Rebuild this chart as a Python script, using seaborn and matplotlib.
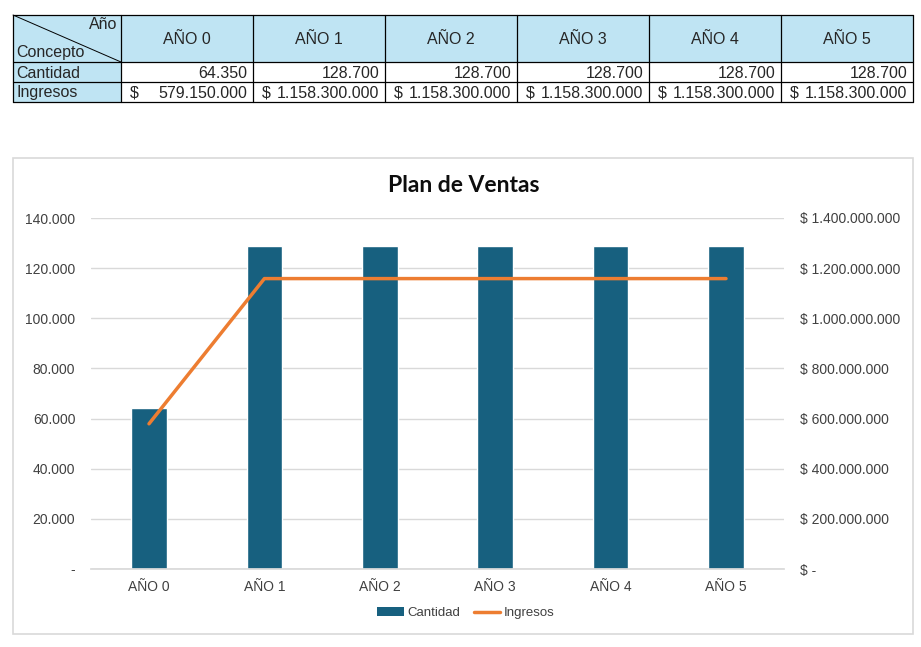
import matplotlib
matplotlib.use("Agg")
import matplotlib.pyplot as plt
import seaborn as sns
import pandas as pd
from matplotlib.patches import Rectangle
from matplotlib.lines import Line2D
from matplotlib.ticker import FuncFormatter

# ---- data ----
categorias = ["AÑO 0", "AÑO 1", "AÑO 2", "AÑO 3", "AÑO 4", "AÑO 5"]
cantidad = [64350, 128700, 128700, 128700, 128700, 128700]
ingresos = [579150000, 1158300000, 1158300000, 1158300000, 1158300000, 1158300000]
filas = ["Cantidad", "Ingresos"]
titulo = "Plan de Ventas"

BAR = "#17607F"
ORANGE = "#ED7D31"
HEAD = "#BFE4F3"
GRID = "#D9D9D9"
TXT = "#404040"

def miles(v):
    return f"{int(round(v)):,}".replace(",", ".")

sns.set_theme(style="white")
plt.rcParams["font.family"] = ["Liberation Sans", "DejaVu Sans"]

fig = plt.figure(figsize=(9.21, 6.47), dpi=100)

# ---- table (pixel coordinate canvas) ----
tx = fig.add_axes([0, 0, 1, 1])
tx.set_xlim(0, 921)
tx.set_ylim(647, 0)
tx.axis("off")

x0, xc1, cw = 13, 121, 132
y0, yh, yr = 15, 62, 20
col_x = [xc1 + i * cw for i in range(len(categorias) + 1)]
col_x[-1] = 913
TFS = 11.5
tx.add_patch(Rectangle((x0, y0), 913 - x0, yh - y0, facecolor=HEAD, edgecolor="none"))
tx.add_patch(Rectangle((x0, yh), xc1 - x0, 2 * yr, facecolor=HEAD, edgecolor="none"))
for yy in [y0, yh, yh + yr, yh + 2 * yr]:
    tx.plot([x0, 913], [yy, yy], color="black", lw=0.9)
for xx in [x0] + col_x:
    tx.plot([xx, xx], [y0, yh + 2 * yr], color="black", lw=0.9)
tx.plot([x0, xc1], [y0, yh], color="black", lw=0.7)
tx.text(xc1 - 4, y0 + 2, "Año", ha="right", va="top", fontsize=TFS)
tx.text(x0 + 3, yh - 2, "Concepto", ha="left", va="bottom", fontsize=TFS)
for i, c in enumerate(categorias):
    cx = (col_x[i] + col_x[i + 1]) / 2
    tx.text(cx, (y0 + yh) / 2 + 1, c, ha="center", va="center", fontsize=TFS)
for r, f in enumerate(filas):
    tx.text(x0 + 3, yh + yr * r + yr / 2 + 1, f, ha="left", va="center", fontsize=TFS)
for i in range(len(categorias)):
    tx.text(col_x[i + 1] - 6, yh + yr / 2 + 1, miles(cantidad[i]), ha="right", va="center", fontsize=TFS)
    tx.text(col_x[i] + 9, yh + yr * 1.5 + 1, "$", ha="left", va="center", fontsize=TFS)
    tx.text(col_x[i + 1] - 6, yh + yr * 1.5 + 1, miles(ingresos[i]), ha="right", va="center", fontsize=TFS)

# chart frame
tx.add_patch(Rectangle((13, 158), 900, 476, facecolor="none", edgecolor=GRID, lw=1.2))

# ---- chart ----
L, R, B, T = 91.3, 783.7, 569, 218
ax = fig.add_axes([L / 921, (647 - B) / 647, (R - L) / 921, (B - T) / 647])
ax.set_facecolor("none")
df = pd.DataFrame({"Año": categorias, "Cantidad": cantidad, "Ingresos": ingresos})
sns.barplot(data=df, x="Año", y="Cantidad", color=BAR, width=0.31, saturation=1, ax=ax, zorder=2)
ax.set_ylim(0, 140000)
ax.set_xlim(-0.5, len(categorias) - 0.5)
ax.set_yticks(range(0, 140001, 20000))
ax.yaxis.set_major_formatter(FuncFormatter(lambda v, p: "-" if v == 0 else miles(v)))
ax.grid(axis="y", color=GRID, lw=1, zorder=0)
ax.set_axisbelow(True)
for s in ["top", "right", "left"]:
    ax.spines[s].set_visible(False)
ax.spines["bottom"].set_color(GRID)
ax.set_xlabel("")
ax.set_ylabel("")
ax.tick_params(axis="y", length=0, pad=11.5, labelsize=10, labelcolor=TXT)
ax.tick_params(axis="x", length=0, pad=8, labelsize=10, labelcolor=TXT)

ax2 = ax.twinx()
sns.lineplot(x=list(range(len(categorias))), y=ingresos, color=ORANGE, lw=2.5, ax=ax2, sort=False)
ax2.set_ylim(0, 1400000000)
ax2.set_yticks(range(0, 1400000001, 200000000))
ax2.yaxis.set_major_formatter(FuncFormatter(lambda v, p: "$ -" if v == 0 else "$ " + miles(v)))
for s in ax2.spines.values():
    s.set_visible(False)
ax2.tick_params(axis="y", length=0, pad=12, labelsize=10, labelcolor=TXT)
ax2.set_ylabel("")

fig.text(464 / 921, 1 - 185 / 647, titulo, ha="center", va="center", fontsize=16.5,
         fontweight="bold", color="#0D0D0D", family=["Lato", "DejaVu Sans"])

handles = [Rectangle((0, 0), 1, 1, facecolor=BAR, edgecolor="none"),
           Line2D([0], [0], color=ORANGE, lw=2.5)]
fig.legend(handles, filas, loc="center", bbox_to_anchor=(466 / 921, 1 - 613 / 647), ncol=2,
           frameon=False, fontsize=9.5, labelcolor=TXT, handlelength=2.0, handleheight=0.6,
           handletextpad=0.3, columnspacing=1.0)

fig.savefig("out.png", dpi=100)
